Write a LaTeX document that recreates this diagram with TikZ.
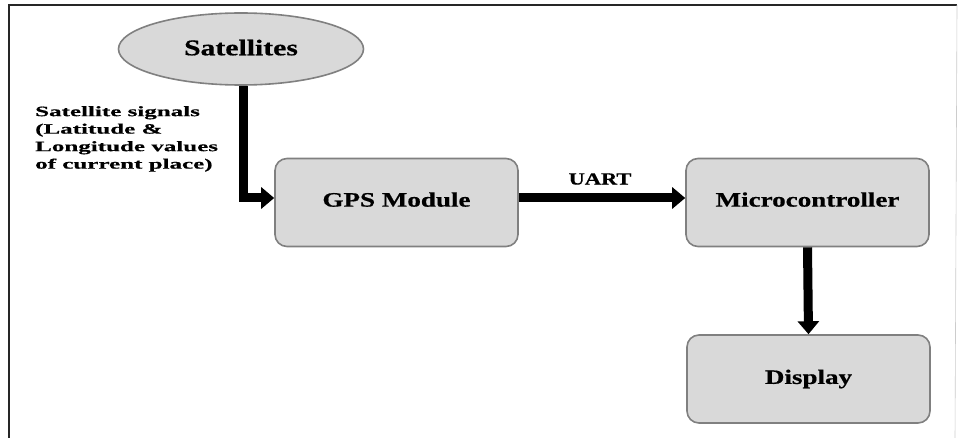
\documentclass[tikz,border=0pt]{standalone}
\usepackage{fontspec}
\setmainfont{Liberation Serif}
\newfontfamily\figfont[FakeStretch=1.32,FakeBold=0.6]{Liberation Serif}
\newfontfamily\lblfont[FakeStretch=1.75,FakeBold=0.6]{Liberation Serif}
\usetikzlibrary{shapes.geometric,arrows.meta}
\definecolor{boxfill}{gray}{0.85}
\definecolor{boxedge}{gray}{0.5}
\begin{document}
\begin{tikzpicture}[x=1pt,y=-1pt,
  blockbox/.style={draw=boxedge,fill=boxfill,line width=1.6pt,rounded corners=12pt,
    minimum width=243pt,minimum height=88pt,inner sep=0pt,
    font=\figfont\bfseries\fontsize{20.5}{24}\selectfont},
  satshape/.style={ellipse,draw=boxedge,fill=boxfill,line width=1.6pt,
    minimum width=245pt,minimum height=72pt,inner sep=0pt,
    font=\figfont\bfseries\fontsize{22.5}{24}\selectfont},
  bigarrow/.style={line width=9pt,-{Triangle[length=13pt,width=21pt]}},
  framestyle/.style={line width=1.2pt,draw=black!85}]
\useasboundingbox (0,0) rectangle (960,438);
\fill[white] (0,0) rectangle (960,438);
% frame
\coordinate (ftl) at (9,5);
\coordinate (ftr) at (957,5);
\coordinate (fbl) at (9,438);
\coordinate (fbr) at (955,438);
\draw[framestyle] (fbl) -- (ftl) -- (ftr);
\draw[line width=0.6pt,draw=black!20] (ftr) -- (fbr);
% nodes
\node[satshape] (sat) at (241,49) {\raisebox{3pt}{Satellites}};
\node[blockbox] (gps) at (396.5,202.5) {\raisebox{6pt}{GPS Module}};
\node[blockbox] (mcu) at (807.5,202.5) {\raisebox{6pt}{Microcontroller}};
\node[blockbox] (disp) at (808.5,379) {Display};
% labels
\node[anchor=north west,align=left,inner sep=0pt,
  font=\lblfont\bfseries\fontsize{14.3}{17.5}\selectfont] (siglbl) at (35,106)
  {Satellite signals\\(Latitude \&\\Longitude values\\of current place)};
\node[inner sep=0pt,font=\figfont\bfseries\fontsize{17}{20}\selectfont] (uartlbl) at (600,179) {UART};
% connectors
\draw[bigarrow] ([xshift=2pt]sat.south) |- ([yshift=4.5pt]gps.west);
\draw[bigarrow] ([yshift=4.5pt]gps.east) -- ([yshift=4.5pt]mcu.west);
\draw[bigarrow] (mcu.south) -- (disp.north);
\end{tikzpicture}
\end{document}
